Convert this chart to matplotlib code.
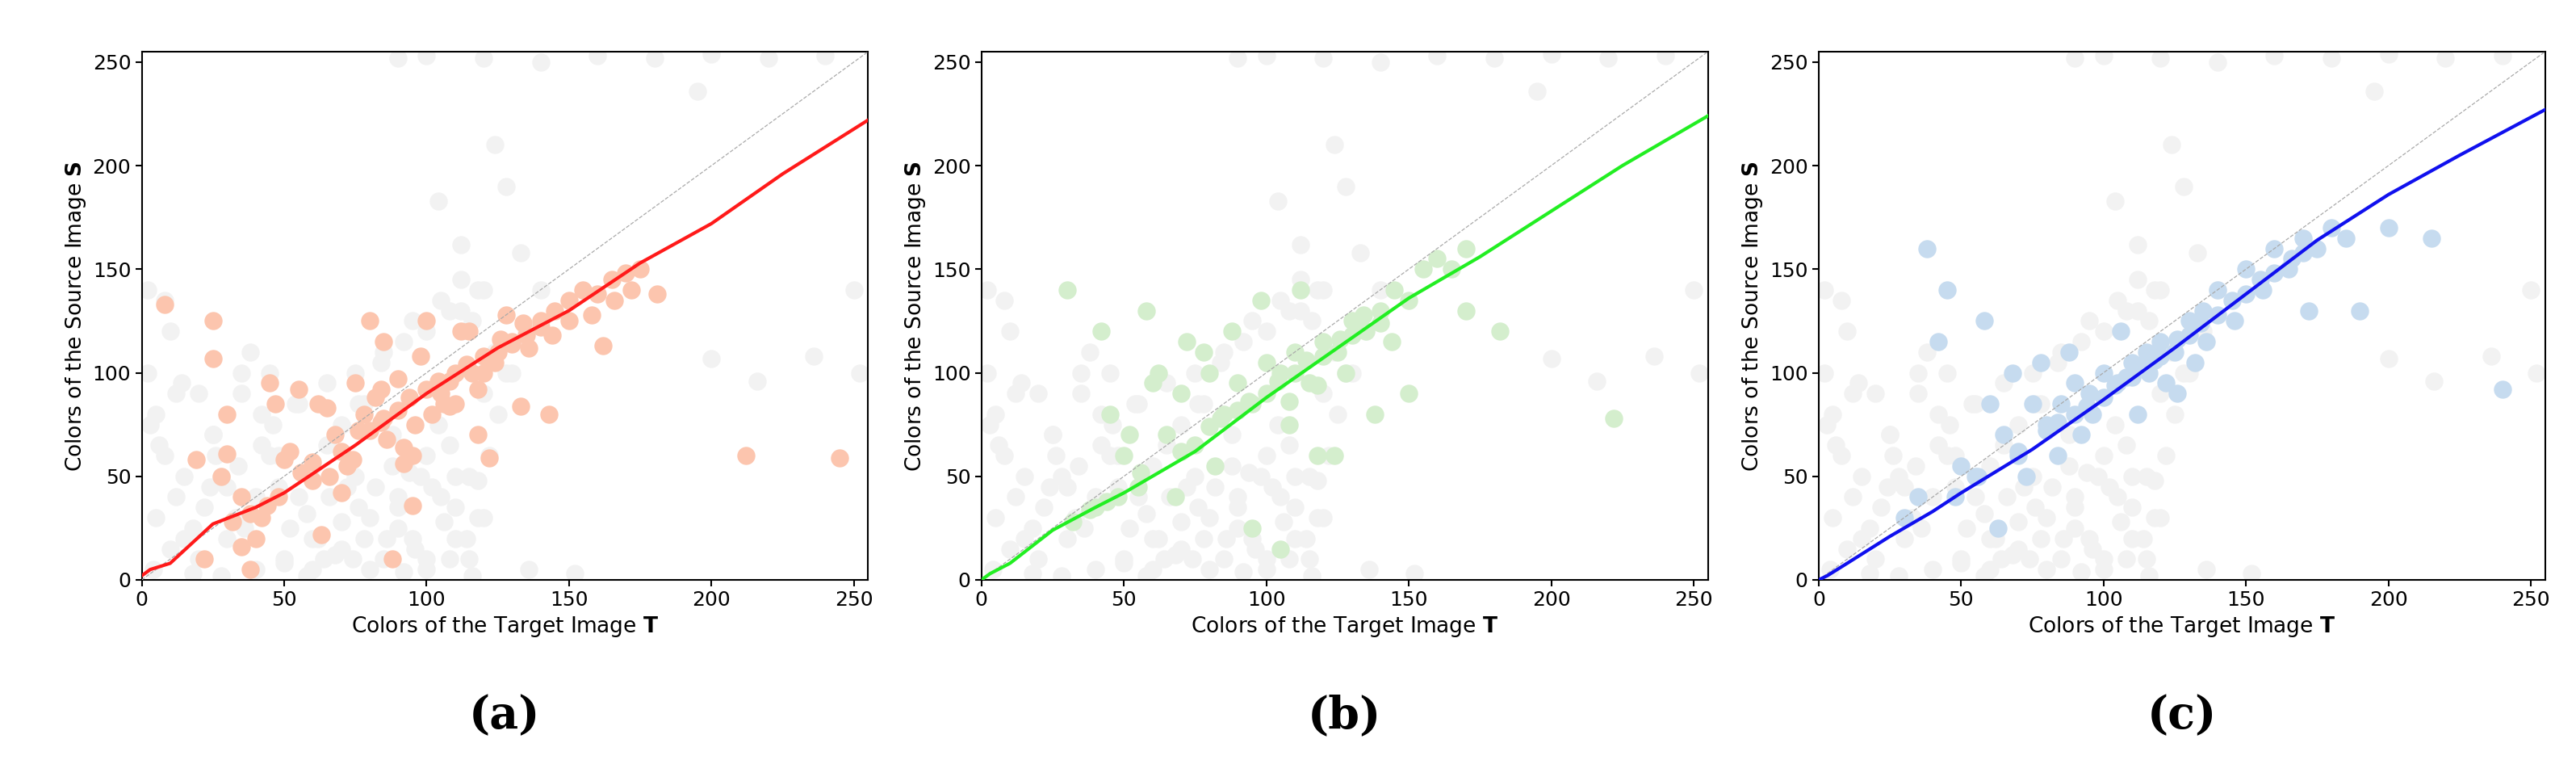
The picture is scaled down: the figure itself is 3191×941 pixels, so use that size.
import matplotlib
matplotlib.use("Agg")
import matplotlib.pyplot as plt

line_x = [0, 3, 10, 25, 40, 50, 75, 100, 125, 150, 175, 200, 225, 255]
line_a = [2, 5, 8, 27, 35, 42, 65, 90, 112, 130, 153, 172, 196, 222]
line_b = [0, 3, 8, 24, 35, 42, 62, 88, 112, 136, 156, 178, 200, 224]
line_c = [0, 2, 8, 21, 33, 42, 63, 87, 112, 138, 164, 186, 205, 227]

grey_x = [2, 5, 8, 12, 15, 20, 25, 28, 33, 38, 42, 48, 55, 60, 65, 70, 75, 80, 85, 90, 95, 100,
          105, 110, 115, 118, 122, 125, 130, 135, 140, 20, 30, 40, 50, 60, 70, 80, 90, 100, 110,
          115, 5, 15, 25, 35, 45, 55, 65, 75, 85, 95, 105, 112, 118, 2, 10, 35, 45, 60, 72, 88,
          98, 108, 120, 128, 104, 112, 124, 128, 133, 195, 200, 216, 236, 250, 252, 8, 90, 100,
          120, 140, 160, 180, 200, 220, 240, 4, 18, 28, 50, 68, 92, 116, 136, 152, 78, 58,
          10, 22, 34, 46, 58, 70, 82, 94, 106, 118, 6, 18, 30, 42, 54, 66, 78, 90, 102, 114,
          12, 26, 40, 52, 64, 76, 88, 100, 110, 120, 3, 14, 24, 36, 48, 62, 74, 86, 96, 108,
          100, 108, 116, 124, 92, 84, 76, 112, 120, 104]
grey_y = [100, 80, 60, 40, 20, 90, 70, 50, 30, 110, 80, 60, 40, 20, 95, 75, 50, 30, 10, 40, 20, 60,
          40, 20, 10, 30, 60, 80, 100, 120, 140, 10, 20, 5, 10, 5, 15, 5, 25, 5, 35,
          50, 30, 50, 70, 90, 100, 85, 65, 100, 110, 125, 135, 145, 140, 140, 120, 100, 60, 55, 45, 70,
          50, 65, 90, 100, 183, 162, 210, 190, 158, 236, 107, 96, 108, 140, 100, 135, 252, 253,
          252, 250, 253, 252, 254, 252, 253, 5, 3, 2, 8, 12, 4, 2, 5, 3, 85, 2,
          15, 35, 55, 75, 32, 28, 45, 52, 28, 48, 65, 25, 45, 65, 85, 40, 20, 35, 45, 20,
          90, 60, 40, 25, 10, 35, 55, 10, 50, 30, 75, 95, 45, 25, 45, 20, 10, 20, 15, 10,
          120, 130, 125, 110, 115, 105, 85, 130, 140, 75]

ca_x = [8, 25, 25, 30, 30, 35, 40, 45, 50, 55, 60, 65, 70, 75, 80, 85, 90, 95, 100, 105, 110, 115,
        120, 125, 130, 135, 140, 145, 150, 155, 160, 165, 170, 175, 181, 212, 245, 19, 22, 28, 35,
        38, 42, 47, 52, 63, 72, 78, 88, 92, 95, 98, 108, 112, 118, 122, 128, 133, 143, 162, 85,
        92, 68, 76, 82, 102, 106, 116, 124, 136, 144, 150, 158, 166, 172, 60, 66, 74, 86, 96, 62, 84,
        70, 80, 90, 100, 110, 120, 130, 140, 104, 114, 126, 134, 94, 84, 56, 48, 38, 32, 44, 118, 108]
ca_y = [133, 125, 107, 80, 61, 40, 20, 95, 58, 92, 57, 83, 42, 95, 125, 115, 97, 60, 125, 90, 85, 120,
        100, 110, 115, 118, 125, 130, 135, 140, 138, 145, 148, 150, 138, 60, 59, 58, 10, 50, 16,
        5, 30, 85, 62, 22, 55, 80, 10, 56, 36, 108, 96, 120, 70, 59, 128, 84, 80, 113, 78,
        64, 70, 72, 88, 80, 85, 100, 105, 112, 118, 125, 128, 135, 140, 48, 50, 58, 68, 75, 85, 92,
        62, 72, 82, 92, 100, 108, 114, 122, 96, 104, 116, 124, 88, 76, 52, 40, 32, 28, 36, 92, 84]

cb_x = [40, 45, 50, 55, 60, 65, 70, 75, 80, 85, 90, 95, 100, 105, 110, 115, 120, 125, 130, 135, 140,
        145, 150, 155, 160, 165, 170, 30, 42, 58, 72, 88, 98, 112, 124, 138, 150, 170, 182, 222,
        95, 105, 118, 82, 68, 78, 108, 128, 144, 62, 52,
        70, 80, 90, 100, 110, 120, 130, 140, 104, 114, 126, 134, 94, 84, 56, 48, 38, 32, 44, 118, 108]
cb_y = [35, 80, 60, 45, 95, 70, 90, 65, 100, 80, 95, 85, 105, 100, 110, 95, 115, 110, 125, 120, 130,
        140, 135, 150, 155, 150, 160, 140, 120, 130, 115, 120, 135, 140, 60, 80, 90, 130, 120, 78,
        25, 15, 60, 55, 40, 110, 75, 100, 115, 100, 70,
        62, 74, 82, 90, 100, 108, 118, 124, 96, 106, 116, 128, 86, 78, 52, 40, 34, 28, 38, 94, 86]

cc_x = [30, 38, 45, 55, 60, 65, 70, 75, 80, 85, 90, 95, 100, 105, 110, 115, 120, 125, 130, 135, 140,
        145, 150, 155, 160, 165, 170, 175, 180, 185, 190, 200, 215, 240, 35, 42, 50, 58, 68, 78,
        88, 96, 106, 116, 126, 136, 146, 156, 166, 172, 63, 73, 84, 92, 112, 122, 132,
        70, 80, 90, 100, 110, 120, 130, 140, 104, 114, 126, 134, 94, 84, 56, 48, 150, 160, 170, 118, 108]
cc_y = [30, 160, 140, 50, 85, 70, 60, 85, 75, 85, 95, 90, 100, 95, 105, 110, 115, 110, 125, 130, 140,
        135, 150, 145, 160, 150, 165, 160, 170, 165, 130, 170, 165, 92, 40, 115, 55, 125, 100, 105,
        110, 80, 120, 100, 90, 115, 125, 140, 155, 130, 25, 50, 60, 70, 80, 95, 105,
        62, 72, 80, 88, 98, 108, 118, 128, 94, 104, 116, 124, 84, 76, 50, 40, 138, 148, 158, 106, 98]

panels = [(line_a, ca_x, ca_y, '#fcc5ae', '#ff1a1a', '(a)'),
          (line_b, cb_x, cb_y, '#d4eecd', '#22ee22', '(b)'),
          (line_c, cc_x, cc_y, '#c6dbef', '#1010ee', '(c)')]
lefts = [0.055, 0.381, 0.706]

fig = plt.figure(figsize=(31.91, 9.41), dpi=100)
for (ly, cx, cy, pc, lc, cap), left in zip(panels, lefts):
    ax = fig.add_axes([left, 0.237, 0.282, 0.695])
    ax.scatter(grey_x, grey_y, s=260, color='#f2f2f2', linewidths=0, zorder=1)
    ax.scatter(cx, cy, s=260, color=pc, linewidths=0, zorder=2)
    ax.plot([0, 255], [0, 255], ls='--', color='#aaaaaa', lw=0.9, zorder=3)
    ax.plot(line_x, ly, color=lc, lw=3, zorder=4)
    ax.set_xlim(0, 255)
    ax.set_ylim(0, 255)
    ax.set_xticks([0, 50, 100, 150, 200, 250])
    ax.set_yticks([0, 50, 100, 150, 200, 250])
    ax.tick_params(labelsize=18, width=1.5, length=6)
    for sp in ax.spines.values():
        sp.set_linewidth(1.5)
    ax.set_xlabel(r'Colors of the Target Image $\mathbf{T}$', fontsize=19)
    ax.set_ylabel(r'Colors of the Source Image $\mathbf{S}$', fontsize=19)
    fig.text(left + 0.141, 0.058, cap, ha='center', va='center', fontsize=40,
             family='DejaVu Serif', fontweight='bold')
fig.savefig('out.png', dpi=100)
